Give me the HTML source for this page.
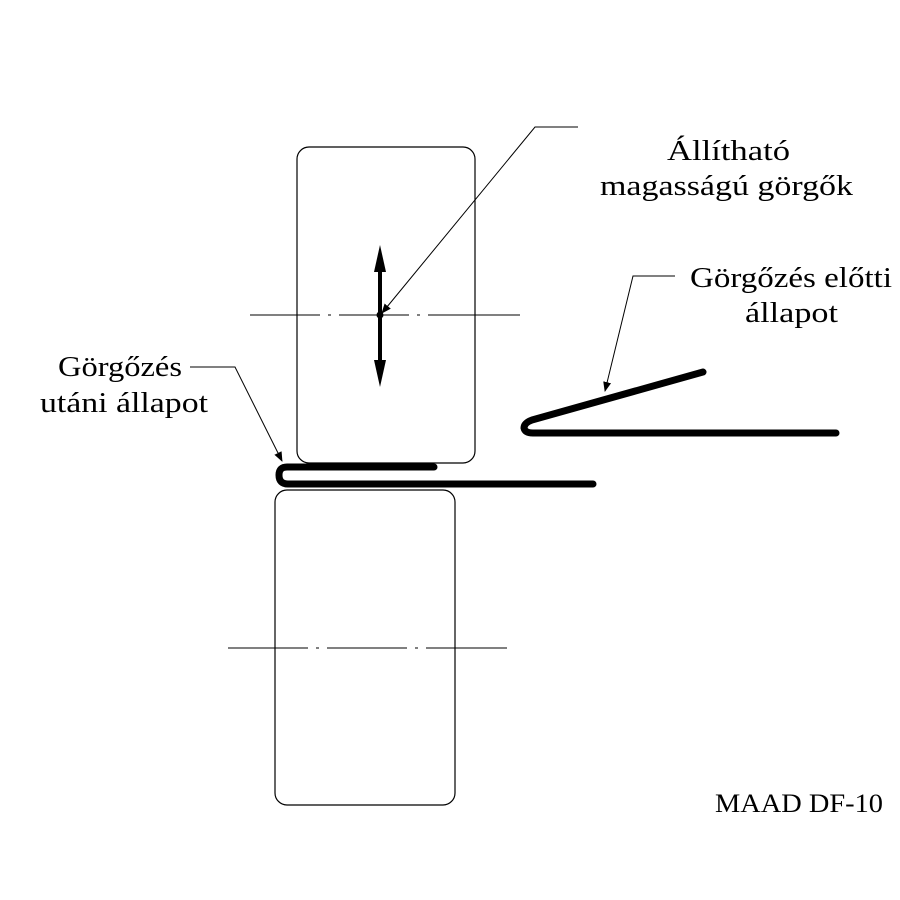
<!DOCTYPE html>
<html><head><meta charset="utf-8"><style>
html,body{margin:0;padding:0;background:#fff;}
svg{display:block}
text{font-family:"Liberation Serif",serif;fill:#000;}
</style></head><body>
<svg width="900" height="900" viewBox="0 0 900 900" xmlns="http://www.w3.org/2000/svg">
<defs>
<marker id="ah" markerWidth="10" markerHeight="10" refX="9" refY="5" orient="auto" markerUnits="userSpaceOnUse">
<path d="M0,1 L10,5 L0,9 Z" fill="#000"/></marker>
</defs>
<rect x="297" y="147" width="178" height="316" rx="12" fill="none" stroke="#000" stroke-width="1.2"/>
<rect x="275" y="490" width="180" height="315" rx="12" fill="none" stroke="#000" stroke-width="1.2"/>
<line x1="250" y1="315" x2="520" y2="315" stroke="#000" stroke-width="1" stroke-dasharray="70,8,3,8,70,8,3,8,200"/>
<line x1="228" y1="648" x2="507" y2="648" stroke="#000" stroke-width="1" stroke-dasharray="80,8,3,8,80,8,3,8,200"/>
<line x1="380" y1="265" x2="380" y2="366" stroke="#000" stroke-width="4"/>
<path d="M380,245 L374,272 L386,272 Z" fill="#000"/>
<path d="M380,387 L374,360 L386,360 Z" fill="#000"/>
<circle cx="380" cy="315" r="3.5" fill="#000"/>
<polyline points="578,127 535,127 382,313" fill="none" stroke="#000" stroke-width="1" marker-end="url(#ah)"/>
<path d="M703,372 L532,420 Q524,423 524,428 Q525,433 533,433 L836,433" fill="none" stroke="#000" stroke-width="7" stroke-linecap="round" stroke-linejoin="round"/>
<polyline points="675,276 633,276 605,391" fill="none" stroke="#000" stroke-width="1" marker-end="url(#ah)"/>
<path d="M434,467 L287,467 Q279,467 279,475 Q279,484 288,484 L593,484" fill="none" stroke="#000" stroke-width="7" stroke-linecap="round" stroke-linejoin="round"/>
<polyline points="190,367 235,367 282,461" fill="none" stroke="#000" stroke-width="1" marker-end="url(#ah)"/>
<text x="667" y="160" font-size="28" textLength="123" lengthAdjust="spacingAndGlyphs">Állítható</text>
<text x="600" y="195" font-size="28" textLength="253" lengthAdjust="spacingAndGlyphs">magasságú görgők</text>
<text x="690" y="287" font-size="28" textLength="202" lengthAdjust="spacingAndGlyphs">Görgőzés előtti</text>
<text x="745" y="322" font-size="28" textLength="93" lengthAdjust="spacingAndGlyphs">állapot</text>
<text x="58" y="376" font-size="28" textLength="124" lengthAdjust="spacingAndGlyphs">Görgőzés</text>
<text x="40" y="412" font-size="28" textLength="168" lengthAdjust="spacingAndGlyphs">utáni állapot</text>
<text x="715" y="812" font-size="26" textLength="168" lengthAdjust="spacingAndGlyphs">MAAD DF-10</text>
</svg>
</body></html>
